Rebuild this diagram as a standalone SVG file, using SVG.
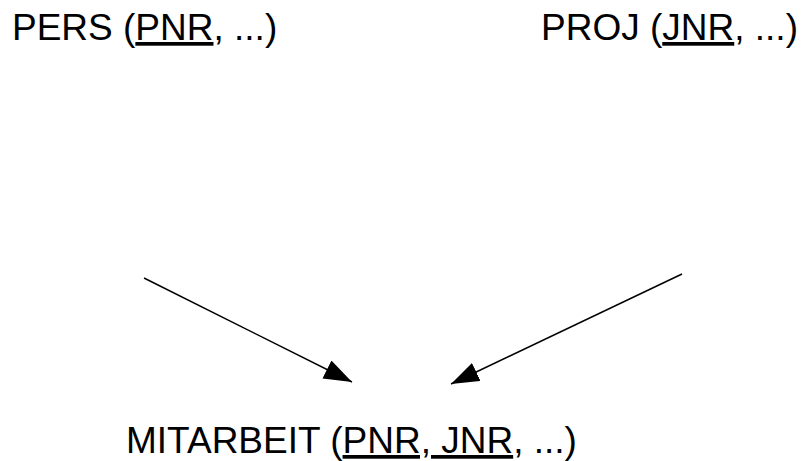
<svg xmlns="http://www.w3.org/2000/svg" width="803" height="461" viewBox="0 0 803 461">
<style>
text{font-family:"Liberation Sans",Arial,sans-serif;font-size:37px;fill:#000}
.u{text-decoration:underline}
.edge{stroke:#000;stroke-width:1.5;fill:none}
</style>
<defs>
<marker id="ah" markerUnits="userSpaceOnUse" markerWidth="30" markerHeight="22" refX="28" refY="10" orient="auto" viewBox="0 0 30 22">
<path d="M0,0 L28,10 L0,20 Z" fill="#000"/>
</marker>
</defs>
<rect width="803" height="461" fill="#fff"/>
<g id="pers"><text x="12" y="40">PERS (<tspan class="u">PNR</tspan>, ...)</text></g>
<g id="proj"><text x="541" y="40">PROJ (<tspan class="u">JNR</tspan>, ...)</text></g>
<g id="mitarbeit"><text x="126" y="453">MITARBEIT (<tspan class="u">PNR, JNR</tspan>, ...)</text></g>
<g id="connectors">
<line class="edge" x1="144" y1="278" x2="352" y2="382" marker-end="url(#ah)"/>
<line class="edge" x1="682" y1="274" x2="451" y2="384" marker-end="url(#ah)"/>
</g>
</svg>
